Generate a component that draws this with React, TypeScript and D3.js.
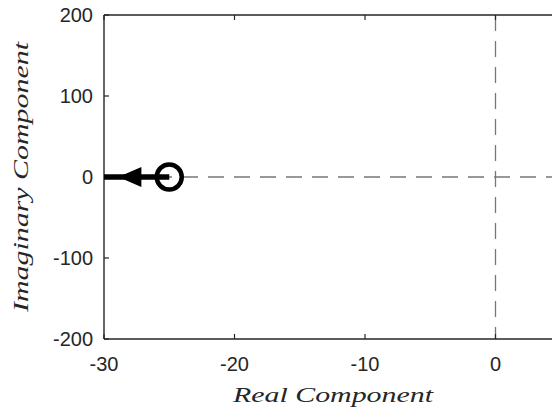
import React from "react";
import * as d3 from "d3";

const xTicks = [-30, -20, -10, 0];
const yTicks = [-200, -100, 0, 100, 200];
const xDomain = [-30, 6];
const yDomain = [-200, 200];
const locusRe = [-30, -25];
const locusIm = [0, 0];
const zeroRe = [-25];
const zeroIm = [0];
const arrowRe = [-28.9];
const arrowIm = [0];

const W = 552;
const H = 410;
const M = { left: 104, top: 15, bottom: 339 };
const unitPx = 13.05;

export default function App() {
  const x = d3.scaleLinear().domain(xDomain).range([M.left, M.left + (xDomain[1] - xDomain[0]) * unitPx]);
  const y = d3.scaleLinear().domain(yDomain).range([M.bottom, M.top]);
  const xR = x(xDomain[1]);
  const axisColor = "#262626";
  const tick = 5;
  const line = d3.line<number>().x((_, i) => x(locusRe[i])).y((_, i) => y(locusIm[i]));
  const pathD = line(locusRe) || "";
  const ax = x(arrowRe[0]);
  const ay = y(arrowIm[0]);
  return (
    <svg width={W} height={H} style={{ position: "absolute", left: 0, top: 0, background: "#fff" }}>
      <defs>
        <clipPath id="plot">
          <rect x={M.left} y={M.top} width={xR - M.left} height={M.bottom - M.top} />
        </clipPath>
      </defs>
      <g clipPath="url(#plot)">
        <line x1={M.left} x2={xR} y1={y(0)} y2={y(0)} stroke="#777" strokeWidth={1.3} strokeDasharray="16,10" />
        <line x1={x(0)} x2={x(0)} y1={M.top} y2={M.bottom} stroke="#777" strokeWidth={1.3} strokeDasharray="16,10" />
      </g>
      <line x1={M.left} x2={xR} y1={M.top} y2={M.top} stroke={axisColor} strokeWidth={1.4} />
      <line x1={M.left} x2={xR} y1={M.bottom} y2={M.bottom} stroke={axisColor} strokeWidth={1.4} />
      <line x1={M.left} x2={M.left} y1={M.top} y2={M.bottom} stroke={axisColor} strokeWidth={1.4} />
      <line x1={xR} x2={xR} y1={M.top} y2={M.bottom} stroke={axisColor} strokeWidth={1.4} />
      {xTicks.map((t) => (
        <g key={"x" + t}>
          <line x1={x(t)} x2={x(t)} y1={M.bottom} y2={M.bottom - tick} stroke={axisColor} strokeWidth={1.2} />
          <line x1={x(t)} x2={x(t)} y1={M.top} y2={M.top + tick} stroke={axisColor} strokeWidth={1.2} />
          <text x={x(t)} y={371} textAnchor="middle" fontFamily="Liberation Sans, Arial, sans-serif" fontSize={20} fill="#262626">
            {t}
          </text>
        </g>
      ))}
      {yTicks.map((t) => (
        <g key={"y" + t}>
          <line x1={M.left} x2={M.left + tick} y1={y(t)} y2={y(t)} stroke={axisColor} strokeWidth={1.2} />
          <line x1={xR} x2={xR - tick} y1={y(t)} y2={y(t)} stroke={axisColor} strokeWidth={1.2} />
          <text x={93} y={y(t) + 7} textAnchor="end" fontFamily="Liberation Sans, Arial, sans-serif" fontSize={20} fill="#262626">
            {t}
          </text>
        </g>
      ))}
      <path d={pathD} stroke="#000" strokeWidth={5.5} fill="none" />
      <path d={`M${ax},${ay} L${ax + 23},${ay - 10} L${ax + 23},${ay + 10} Z`} fill="#000" />
      {zeroRe.map((r, i) => (
        <circle key={i} cx={x(r)} cy={y(zeroIm[i])} r={12.5} fill="none" stroke="#000" strokeWidth={4.5} />
      ))}
      <text
        x={333}
        y={402}
        textAnchor="middle"
        fontFamily="Liberation Serif, serif"
        fontStyle="italic"
        fontSize={22}
        textLength={200}
        lengthAdjust="spacingAndGlyphs"
        fill="#262626"
      >
        Real Component
      </text>
      <text
        transform={`translate(28,${(M.top + M.bottom) / 2}) rotate(-90)`}
        textAnchor="middle"
        fontFamily="Liberation Serif, serif"
        fontStyle="italic"
        fontSize={22}
        textLength={270}
        lengthAdjust="spacingAndGlyphs"
        fill="#262626"
      >
        Imaginary Component
      </text>
    </svg>
  );
}
